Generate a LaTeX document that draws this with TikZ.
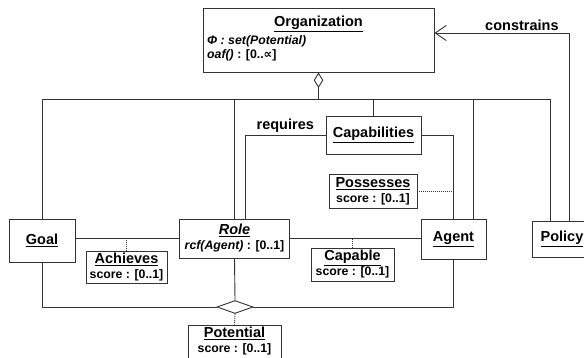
\documentclass[tikz,border=0pt]{standalone}
\usepackage{fontspec}
\setmainfont{Liberation Sans}
\newfontfamily\dejavu{DejaVu Sans}
\usetikzlibrary{arrows.meta,shapes.geometric,calc}
\newcommand\attrtxt[1]{{\fontsize{12.3}{14}\selectfont #1}}
\tikzset{
  ln/.style={draw=black!80, line width=0.9pt},
  cls/.style={ln, rectangle, fill=white, inner sep=0pt, align=center,
    font=\fontsize{14.5}{16}\selectfont\bfseries},
  attr/.style={inner sep=0pt, font=\fontsize{12.3}{14}\selectfont\bfseries},
  lbl/.style={font=\fontsize{14.5}{16}\selectfont\bfseries},
  dots/.style={ln, dash pattern=on 1pt off 1pt},
  agg/.style={ln, diamond, fill=white, inner sep=0pt, minimum width=36pt, minimum height=13pt},
}
\begin{document}
\begin{tikzpicture}[x=1pt,y=-1pt]
\useasboundingbox (0,0) rectangle (584,358);
% classes
\node[cls, minimum width=231pt, minimum height=64pt] (org) at (318.5,40) {};
\node[lbl, inner sep=0pt] (orgT) at (318.5,24) {\underline{Organization}};
\node[attr, anchor=west] (orgA) at (207,41) {\itshape Φ : set(Potential)};
\node[attr, anchor=west] (orgB) at (207,55) {\textit{oaf()} : [0..{\dejavu\bfseries ∝}]};
\node[cls, minimum width=66pt, minimum height=43pt] (goal) at (42,240.5) {\underline{Goal}};
\node[cls, minimum width=110pt, minimum height=39pt] (role) at (234.5,238.5)
  {\textit{\underline{Role}}\\[-1pt]\attrtxt{\textit{rcf(Agent)} : [0..1]}};
\node[cls, minimum width=95pt, minimum height=38pt] (capab) at (373.5,135) {\underline{Capabilities}};
\node[cls, minimum width=88pt, minimum height=34pt] (poss) at (373,191)
  {\underline{Possesses}\\[-1pt]\attrtxt{score : [0..1]}};
\node[cls, minimum width=65pt, minimum height=40pt] (agent) at (453.5,239) {\underline{Agent}};
\node[cls, minimum width=60pt, minimum height=36pt] (policy) at (562,239) {\underline{Policy}};
\node[cls, minimum width=81pt, minimum height=32pt] (ach) at (126.5,267)
  {\underline{Achieves}\\[-1pt]\attrtxt{score : [0..1]}};
\node[cls, minimum width=83pt, minimum height=33pt] (capb) at (352.5,264.5)
  {\underline{Capable}\\[-1pt]\attrtxt{score : [0..1]}};
\node[cls, minimum width=93pt, minimum height=33pt] (pot) at (234.5,341.5)
  {\underline{Potential}\\[-1pt]\attrtxt{score : [0..1]}};
\node[agg] (pd) at (235,307) {};
% junction coordinates
\coordinate (bj) at (319,99);
\coordinate (pA) at ($(policy.north)+(-12,0)$);
\coordinate (pB) at ($(policy.north)+(7,0)$);
\coordinate (rB) at ($(role.north)+(10.5,0)$);
\coordinate (aA) at ($(agent.north)+(19.5,0)$);
\coordinate (cBend) at (569,33);
% aggregation of organization
\draw[ln, {Diamond[open,length=15.5pt,width=9.5pt]}-] (org.south) -- (org.south |- bj);
\draw[ln] (goal.north) |- (pA |- bj) -- (pA);
\draw[ln] (role.north) -- (role.north |- bj);
\draw[ln] (capab.north) -- (capab.north |- bj);
\draw[ln] (aA) -- (aA |- bj);
% requires
\draw[ln] (rB) |- (capab.west) node[lbl, pos=0.75, above, inner sep=2pt] {requires};
% capabilities - agent
\draw[ln] (capab.east) -| (agent.north);
\draw[dots] (poss.east) -- (poss.east -| agent.north);
% goal - role - agent
\draw[ln] (goal.east |- role.west) -- (role.west);
\draw[ln] (role.east) -- (role.east -| agent.west);
\draw[dots] (ach.north) -- (ach.north |- role.west);
\draw[dots] (capb.north) -- (capb.north |- role.east);
% potential
\draw[ln] (goal.south) |- (pd.west);
\draw[ln] (pd.east) -| (agent.south);
\draw[ln] (role.south) -- (pd.north);
\draw[dots] (pd.south) -- (pot.north);
% constrains
\draw[ln, -{Straight Barb[length=11pt,width=15pt]}] (pB) -- (cBend)
  -- node[lbl, pos=0.35, above, inner sep=2pt] {constrains} (cBend -| org.east);
\end{tikzpicture}
\end{document}
